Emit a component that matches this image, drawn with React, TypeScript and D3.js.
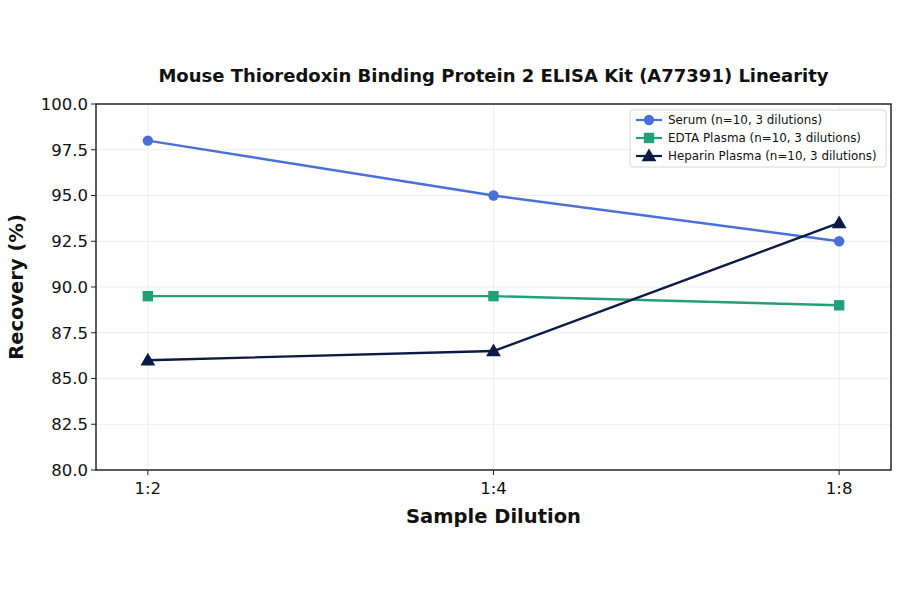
import { useMemo } from 'react'
import { scaleLinear, scalePoint, line, symbol, symbolTriangle } from 'd3'

const DILUTIONS = ['1:2', '1:4', '1:8']
const SERUM = [98, 95, 92.5]
const EDTA = [89.5, 89.5, 89]
const HEPARIN = [86, 86.5, 93.5]
const Y_TICKS = [80, 82.5, 85, 87.5, 90, 92.5, 95, 97.5, 100]

const SERIES = [
  { name: 'Serum (n=10, 3 dilutions)', values: SERUM, color: '#4a6fd8', marker: 'circle' },
  { name: 'EDTA Plasma (n=10, 3 dilutions)', values: EDTA, color: '#22a077', marker: 'square' },
  { name: 'Heparin Plasma (n=10, 3 dilutions)', values: HEPARIN, color: '#0c1a45', marker: 'triangle' },
]

const W = 900
const H = 594
const L = 96
const R = 891
const T = 104
const B = 470
const FONT = 'DejaVu Sans, sans-serif'

function Marker({ kind, x, y, color }: { kind: string; x: number; y: number; color: string }) {
  if (kind === 'circle') return <circle cx={x} cy={y} r={5.2} fill={color} />
  if (kind === 'square') return <rect x={x - 5.2} y={y - 5.2} width={10.4} height={10.4} fill={color} />
  const d = symbol(symbolTriangle, 95)() || ''
  return <path d={d} transform={`translate(${x},${y + 1})`} fill={color} />
}

export default function App() {
  const { x, y } = useMemo(() => ({
    x: scalePoint<string>().domain(DILUTIONS).range([L, R]).padding(0.15),
    y: scaleLinear().domain([80, 100]).range([B, T]),
  }), [])

  const path = line<number>()
    .x((_, i) => x(DILUTIONS[i]) as number)
    .y((v) => y(v))

  return (
    <svg width={W} height={H} style={{ position: 'absolute', left: 0, top: 0 }} fontFamily={FONT}>
      <rect width={W} height={H} fill="#fff" />
      {Y_TICKS.map((t) => (
        <line key={t} x1={L} x2={R} y1={y(t)} y2={y(t)} stroke="#e8e8e8" strokeWidth={0.8} />
      ))}
      {DILUTIONS.map((d) => (
        <line key={d} x1={x(d)} x2={x(d)} y1={T} y2={B} stroke="#e8e8e8" strokeWidth={0.8} />
      ))}

      {SERIES.map((s) => (
        <g key={s.name}>
          <path d={path(s.values) || ''} fill="none" stroke={s.color} strokeWidth={2.4} />
          {s.values.map((v, i) => (
            <Marker key={i} kind={s.marker} x={x(DILUTIONS[i]) as number} y={y(v)} color={s.color} />
          ))}
        </g>
      ))}

      <rect x={L} y={T} width={R - L} height={B - T} fill="none" stroke="#1a1a1a" strokeWidth={1.4} />

      {Y_TICKS.map((t) => (
        <g key={t}>
          <line x1={L - 5} x2={L} y1={y(t)} y2={y(t)} stroke="#222" strokeWidth={1} />
          <text x={L - 8} y={y(t)} dy="0.35em" textAnchor="end" fontSize={16.5} fill="#111">
            {t.toFixed(1)}
          </text>
        </g>
      ))}
      {DILUTIONS.map((d) => (
        <g key={d}>
          <line x1={x(d)} x2={x(d)} y1={B} y2={B + 5} stroke="#222" strokeWidth={1} />
          <text x={x(d)} y={B + 24} textAnchor="middle" fontSize={16.5} fill="#111">
            {d}
          </text>
        </g>
      ))}

      <text x={(L + R) / 2} y={82} textAnchor="middle" fontSize={18} fontWeight="bold" fill="#111">
        Mouse Thioredoxin Binding Protein 2 ELISA Kit (A77391) Linearity
      </text>
      <text x={(L + R) / 2} y={523} textAnchor="middle" fontSize={19.5} fontWeight="bold" fill="#111">
        Sample Dilution
      </text>
      <text
        transform={`translate(23,${(T + B) / 2}) rotate(-90)`}
        textAnchor="middle"
        fontSize={19.5}
        fontWeight="bold"
        fill="#111"
      >
        Recovery (%)
      </text>

      <g transform="translate(630,110)">
        <rect x={0} y={0} width={256} height={57} rx={3} fill="#fff" fillOpacity={0.85} stroke="#d8d8d8" />
        {SERIES.map((s, i) => (
          <g key={s.name} transform={`translate(0,${10 + i * 18})`}>
            <line x1={6} x2={32} y1={0} y2={0} stroke={s.color} strokeWidth={2.2} />
            <Marker kind={s.marker} x={19} y={0} color={s.color} />
            <text x={38} y={0} dy="0.35em" fontSize={11.9} fill="#111">
              {s.name}
            </text>
          </g>
        ))}
      </g>
    </svg>
  )
}
